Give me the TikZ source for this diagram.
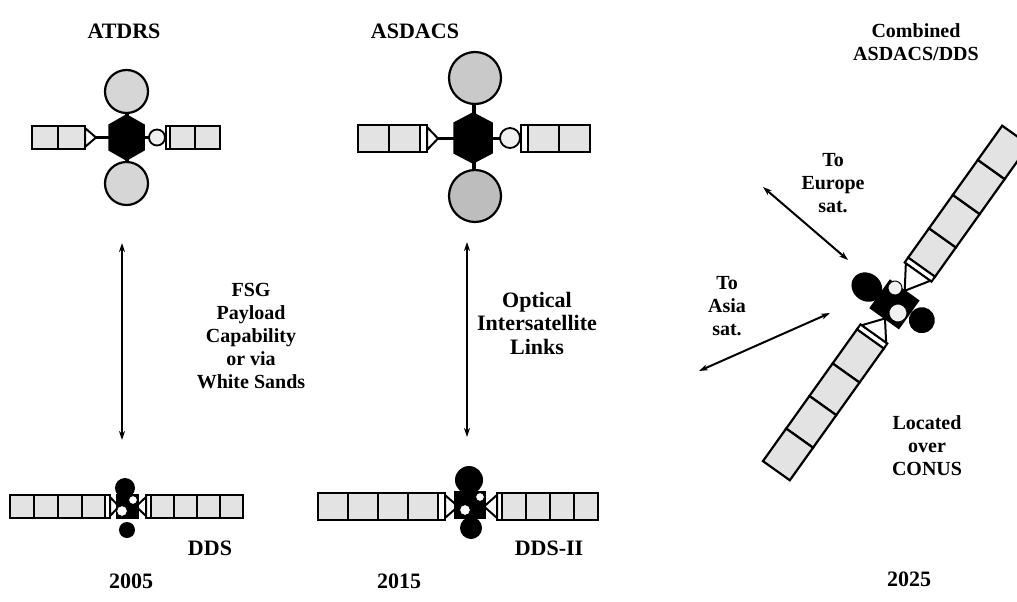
\documentclass[tikz,border=0pt]{standalone}
\usepackage{fontspec}
\setmainfont{Liberation Serif}
\usetikzlibrary{arrows.meta}

\begin{document}
\begin{tikzpicture}[x=1pt,y=-1pt,
  lbl/.style={font=\fontsize{20}{23}\selectfont\bfseries, align=center, inner sep=0pt},
  big/.style={font=\fontsize{22}{23.5}\selectfont\bfseries, align=center, inner sep=0pt},
  cell/.style={draw, line width=2.2pt, fill=gray!22},
  strip/.style={draw, line width=2pt, fill=white},
  blk/.style={draw, line width=1.5pt, fill=black},
  dish/.style={draw, line width=2.2pt},
  knob/.style={draw, line width=1.8pt, fill=gray!12},
  boom/.style={line width=3pt},
  link/.style={line width=2pt, {Stealth[length=9pt,width=6pt]}-{Stealth[length=9pt,width=6pt]}},
]
\useasboundingbox (0,0) rectangle (1017,602);

% ---------- titles and years ----------
\node[big] (tA) at (124,31) {ATDRS};
\node[big] (tB) at (415,31) {ASDACS};
\node[lbl] (tC) at (916,42) {Combined\\ASDACS/DDS};
\node[big] (nD) at (210,548) {DDS};
\node[big] (nE) at (549,548) {DDS-II};
\node[big] (y1) at (131,581) {2005};
\node[big] (y2) at (399,581) {2015};
\node[big] (y3) at (909,579) {2025};

% ---------- ATDRS ----------
\draw[cell] (32,126) rectangle (58,149);
\draw[cell] (58,126) rectangle (85,149);
\draw[strip] (85,128) -- (96,137.5) -- (85,147) -- cycle;
\draw[boom] (96,137.5) -- (110,137.5);
\draw[line width=4pt] (126.5,108) -- (126.5,118);
\draw[line width=4pt] (126.5,157) -- (126.5,166);
\draw[dish, fill=gray!32] (126.5,91.5) circle[radius=21.5pt];
\draw[dish, fill=gray!32] (126.5,183.5) circle[radius=21.5pt];
\draw[blk] (126.5,115) -- (144,125) -- (144,150) -- (126.5,160) -- (109,150) -- (109,125) -- cycle;
\draw[boom] (144,137.5) -- (150,137.5);
\draw[knob] (157,137.5) circle[radius=8pt];
\draw[strip] (166,126) rectangle (170,149);
\draw[cell] (170,126) rectangle (195,149);
\draw[cell] (195,126) rectangle (220,149);

% ---------- ASDACS ----------
\draw[cell] (358,125) rectangle (389,152);
\draw[cell] (389,125) rectangle (420,152);
\draw[strip] (420,125) rectangle (427,152);
\draw[strip] (427,127) -- (438,138.5) -- (427,150) -- cycle;
\draw[boom] (438,138.5) -- (455,138.5);
\draw[line width=4.5pt] (474,100) -- (474,116);
\draw[line width=4.5pt] (474,160) -- (474,173);
\draw[dish, fill=gray!42] (475,78) circle[radius=26pt];
\draw[dish, fill=gray!52] (475,196) circle[radius=26pt];
\draw[blk] (473,113) -- (492,123) -- (492,153) -- (473,163) -- (454,153) -- (454,123) -- cycle;
\draw[boom] (492,138.5) -- (500,138.5);
\draw[knob] (510,138) circle[radius=10pt];
\draw[strip] (521,125) rectangle (528,152);
\draw[cell] (528,125) rectangle (559,152);
\draw[cell] (559,125) rectangle (590,152);

% ---------- DDS ----------
\foreach \a/\b in {10/34,34/58,58/82,82/105,151/174,174/197,197/220,220/243}
  \draw[cell] (\a,495) rectangle (\b,518);
\draw[strip] (105,495) rectangle (110,518);
\draw[strip] (146,495) rectangle (151,518);
\draw[strip] (110,497) -- (119,506.5) -- (110,516) -- cycle;
\draw[strip] (146,497) -- (136,506.5) -- (146,516) -- cycle;
\fill (125,488) circle[radius=10pt];
\fill (127,530) circle[radius=8pt];
\draw[blk] (117,495) rectangle (138,518);
\draw[knob, line width=1pt, fill=white] (133,500) circle[radius=4.5pt];
\draw[knob, line width=1pt, fill=white] (122,511) circle[radius=5.5pt];

% ---------- DDS-II ----------
\foreach \a/\b in {318/348,348/378,378/408,408/438,502/526,526/550,550/574,574/598}
  \draw[cell] (\a,493) rectangle (\b,520);
\draw[strip] (438,493) rectangle (445,520);
\draw[strip] (497,493) rectangle (502,520);
\draw[strip] (445,495) -- (458,506.5) -- (445,518) -- cycle;
\draw[strip] (497,495) -- (484,506.5) -- (497,518) -- cycle;
\fill (469,480) circle[radius=14pt];
\fill (471,528) circle[radius=11pt];
\draw[blk] (455,492) rectangle (485,518);
\draw[knob, line width=1pt, fill=white] (480,497) circle[radius=4.5pt];
\draw[knob, line width=1pt, fill=white] (465,510) circle[radius=5.5pt];

% ---------- combined ASDACS/DDS, drawn along its array axis ----------
\begin{scope}
\clip (0,0) rectangle (1017,602);
\begin{scope}[shift={(896,303)}, rotate=54.5]
  \foreach \a/\b in {44/80,80/121,121/164,164/206,-44/-86,-86/-126,-126/-166,-166/-206}
    \draw[cell] (\a,-16.5) rectangle (\b,16.5);
  \draw[strip] (38,-16.5) rectangle (44,16.5);
  \draw[strip] (-38,-16.5) rectangle (-44,16.5);
  \draw[strip] (38,-15) -- (15,0) -- (38,15) -- cycle;
  \draw[strip] (-38,-15) -- (-19,0) -- (-38,15) -- cycle;
  \fill (-4,-33) ellipse[x radius=14pt, y radius=16pt];
  \fill (1,31) circle[radius=13pt];
  \draw[blk] (-19,-18) rectangle (15,17);
  \draw[knob, line width=1pt] (11.6,-9.5) circle[radius=7pt];
  \draw[knob, line width=1pt] (-7,7.4) circle[radius=9pt];
\end{scope}
\end{scope}

% ---------- links ----------
\coordinate (p1) at (122,243);
\coordinate (q1) at (122,440);
\draw[link] (p1) -- (q1);
\node[lbl] (fsg) at (251,336) {FSG\\Payload\\Capability\\or via\\White Sands};

\coordinate (p2) at (467,242);
\coordinate (q2) at (467,437);
\draw[link] (p2) -- (q2);
\node[big] (opt) at (537,323) {Optical\\Intersatellite\\Links};

\coordinate (p3) at (763,187);
\coordinate (q3) at (848,260);
\draw[link] (p3) -- (q3);
\node[lbl] (eur) at (833,183) {To\\Europe\\sat.};

\coordinate (p4) at (699,371);
\coordinate (q4) at (830,313);
\draw[link] (p4) -- (q4);
\node[lbl] (asi) at (727,306) {To\\Asia\\sat.};

\node[lbl] (loc) at (927,446) {Located\\over\\CONUS};
\end{tikzpicture}
\end{document}
